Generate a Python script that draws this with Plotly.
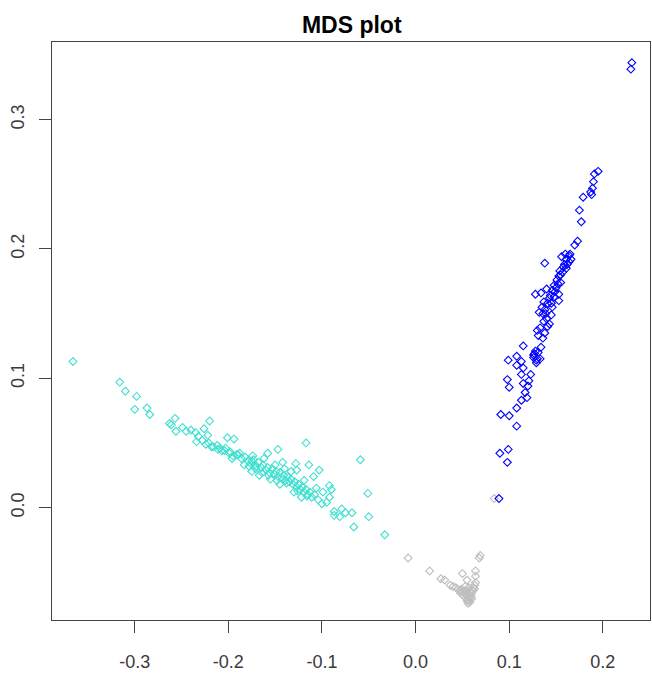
import plotly.graph_objects as go

# MDS coordinates, grouped by cluster
teal_x = [-0.366, -0.316, -0.310, -0.298, -0.300, -0.287, -0.284, -0.257, -0.263, -0.261,
          -0.256, -0.249, -0.245, -0.240, -0.235, -0.226, -0.220, -0.222, -0.234, -0.224,
          -0.201, -0.194, -0.216, -0.209, -0.204, -0.199, -0.188, -0.191, -0.174, -0.175,
          -0.183, -0.172, -0.158, -0.147, -0.117, -0.142, -0.128, -0.114, -0.103, -0.127,
          -0.109, -0.119, -0.106, -0.092, -0.099, -0.090, -0.092, -0.095, -0.087, -0.079,
          -0.075, -0.068, -0.081, -0.087, -0.066, -0.059, -0.051, -0.050, -0.033,
          -0.232, -0.228, -0.221, -0.218, -0.212, -0.207, -0.203, -0.198, -0.195, -0.190,
          -0.186, -0.182, -0.179, -0.176, -0.173, -0.170, -0.168, -0.165, -0.163, -0.160,
          -0.158, -0.156, -0.153, -0.151, -0.149, -0.147, -0.145, -0.143, -0.141, -0.139,
          -0.137, -0.135, -0.133, -0.131, -0.129, -0.127, -0.125, -0.123, -0.121, -0.119,
          -0.117, -0.115, -0.113, -0.111, -0.108, -0.162, -0.150, -0.140, -0.133, -0.155,
          -0.145, -0.130, -0.122, -0.175, -0.167, -0.104, -0.100,
          -0.178, -0.171, -0.164, -0.157, -0.148, -0.138, -0.126, -0.116, -0.211, -0.196]
teal_y = [0.113, 0.097, 0.090, 0.086, 0.076, 0.077, 0.072, 0.069, 0.065, 0.064,
          0.059, 0.062, 0.059, 0.060, 0.058, 0.061, 0.067, 0.056, 0.051, 0.049,
          0.054, 0.053, 0.047, 0.046, 0.044, 0.042, 0.042, 0.041, 0.040, 0.036,
          0.033, 0.033, 0.042, 0.045, 0.050, 0.035, 0.034, 0.033, 0.029, 0.029,
          0.024, 0.021, 0.015, 0.017, 0.012, 0.014, 0.008, 0.004, -0.003, -0.001,
          -0.004, -0.004, -0.007, -0.006, -0.015, 0.037, 0.011, -0.007, -0.021,
          0.055, 0.052, 0.050, 0.047, 0.048, 0.044, 0.046, 0.043, 0.040, 0.041,
          0.038, 0.039, 0.036, 0.034, 0.037, 0.032, 0.035, 0.031, 0.033, 0.029,
          0.031, 0.027, 0.030, 0.026, 0.028, 0.024, 0.027, 0.023, 0.025, 0.021,
          0.024, 0.020, 0.022, 0.018, 0.020, 0.016, 0.018, 0.014, 0.016, 0.012,
          0.014, 0.010, 0.012, 0.008, 0.010, 0.038, 0.033, 0.030, 0.028, 0.022,
          0.018, 0.012, 0.008, 0.028, 0.025, 0.006, 0.003,
          0.032, 0.030, 0.027, 0.025, 0.021, 0.019, 0.013, 0.009, 0.045, 0.038]

gray_x = [-0.008, 0.015, 0.027, 0.031, 0.037, 0.050, 0.055, 0.064, 0.064, 0.068,
          0.069, 0.063, 0.084,
          0.040, 0.043, 0.045, 0.047, 0.049, 0.050, 0.052, 0.053, 0.054, 0.055,
          0.056, 0.057, 0.058, 0.056, 0.055, 0.057, 0.059, 0.060, 0.061, 0.062,
          0.058, 0.059, 0.054, 0.051, 0.048, 0.056, 0.058, 0.060, 0.063, 0.064,
          0.053, 0.057]
gray_y = [-0.039, -0.049, -0.055, -0.056, -0.060, -0.051, -0.056, -0.049, -0.053, -0.039,
          -0.037, -0.060, 0.007,
          -0.061, -0.062, -0.063, -0.064, -0.063, -0.065, -0.066, -0.064, -0.067, -0.068,
          -0.066, -0.069, -0.070, -0.071, -0.072, -0.072, -0.068, -0.066, -0.064, -0.062,
          -0.065, -0.071, -0.070, -0.068, -0.066, -0.074, -0.073, -0.070, -0.063, -0.058,
          -0.061, -0.062]

blue_x = [0.089, 0.098, 0.090, 0.099, 0.108, 0.091, 0.100, 0.108, 0.113, 0.119,
          0.117, 0.120, 0.100, 0.098, 0.115, 0.113, 0.123, 0.121, 0.115, 0.108,
          0.099, 0.108, 0.113, 0.127, 0.129, 0.130, 0.126, 0.133, 0.115, 0.134,
          0.136, 0.131, 0.138, 0.130, 0.141, 0.143, 0.140, 0.145, 0.132, 0.138,
          0.146, 0.135, 0.137, 0.143, 0.148, 0.153, 0.140, 0.134, 0.128, 0.149,
          0.153, 0.148, 0.151, 0.155, 0.153, 0.157, 0.154, 0.161, 0.159, 0.164,
          0.161, 0.156, 0.164, 0.166, 0.138, 0.170, 0.173, 0.195, 0.191, 0.190,
          0.189, 0.187, 0.188, 0.179, 0.175, 0.177, 0.231, 0.230,
          0.150, 0.152, 0.146, 0.144, 0.158, 0.155, 0.141, 0.139, 0.137, 0.133,
          0.128, 0.126, 0.131, 0.129, 0.162, 0.165, 0.160, 0.145, 0.136]
blue_y = [0.007, 0.035, 0.042, 0.045, 0.063, 0.072, 0.071, 0.077, 0.083, 0.085,
          0.089, 0.094, 0.093, 0.099, 0.096, 0.103, 0.103, 0.098, 0.108, 0.110,
          0.114, 0.117, 0.113, 0.119, 0.112, 0.115, 0.118, 0.115, 0.125, 0.124,
          0.131, 0.133, 0.135, 0.137, 0.140, 0.142, 0.146, 0.149, 0.151, 0.153,
          0.155, 0.155, 0.159, 0.162, 0.163, 0.160, 0.169, 0.166, 0.165, 0.167,
          0.165, 0.172, 0.176, 0.174, 0.179, 0.182, 0.183, 0.185, 0.188, 0.190,
          0.192, 0.194, 0.195, 0.192, 0.189, 0.203, 0.206, 0.260, 0.258, 0.252,
          0.247, 0.244, 0.242, 0.240, 0.230, 0.221, 0.344, 0.339,
          0.170, 0.173, 0.168, 0.164, 0.186, 0.180, 0.158, 0.150, 0.144, 0.139,
          0.121, 0.116, 0.120, 0.114, 0.188, 0.196, 0.196, 0.158, 0.150]

x_ticks = [-0.3, -0.2, -0.1, 0.0, 0.1, 0.2]
x_tick_text = ["-0.3", "-0.2", "-0.1", "0.0", "0.1", "0.2"]
y_ticks = [0.0, 0.1, 0.2, 0.3]
y_tick_text = ["0.0", "0.1", "0.2", "0.3"]

fig = go.Figure()
for xs, ys, col in [(teal_x, teal_y, "#40E0D0"),
                    (gray_x, gray_y, "#BEBEBE"),
                    (blue_x, blue_y, "#0000FF")]:
    fig.add_trace(go.Scatter(
        x=xs, y=ys, mode="markers",
        marker=dict(symbol="diamond-open", size=6, color=col,
                    line=dict(color=col, width=1.1)),
        hoverinfo="x+y",
    ))

axis_style = dict(
    showgrid=False, zeroline=False, showline=True, mirror=True,
    linecolor="#444444", linewidth=1.2,
    ticks="outside", ticklen=12, tickwidth=1.2, tickcolor="#444444",
    tickfont=dict(family="Liberation Sans, Arial, sans-serif", size=18, color="#3a3a3a"),
)

fig.update_xaxes(range=[-0.3884, 0.2504], tickvals=x_ticks, ticktext=x_tick_text,
                 ticklabelstandoff=13, **axis_style)
fig.update_yaxes(range=[-0.0869, 0.3600], tickvals=y_ticks, ticktext=y_tick_text,
                 tickangle=-90, ticklabelstandoff=8, **axis_style)

fig.update_layout(
    width=652, height=673,
    margin=dict(l=52, r=1, t=42, b=50),
    paper_bgcolor="white", plot_bgcolor="white",
    showlegend=False,
    title=dict(text="<b>MDS plot</b>", x=0.5395, xanchor="center",
               y=1 - 25 / 673, yanchor="middle", yref="container",
               font=dict(family="Liberation Sans, Arial, sans-serif", size=23, color="black")),
)

fig.write_html("out.html")
